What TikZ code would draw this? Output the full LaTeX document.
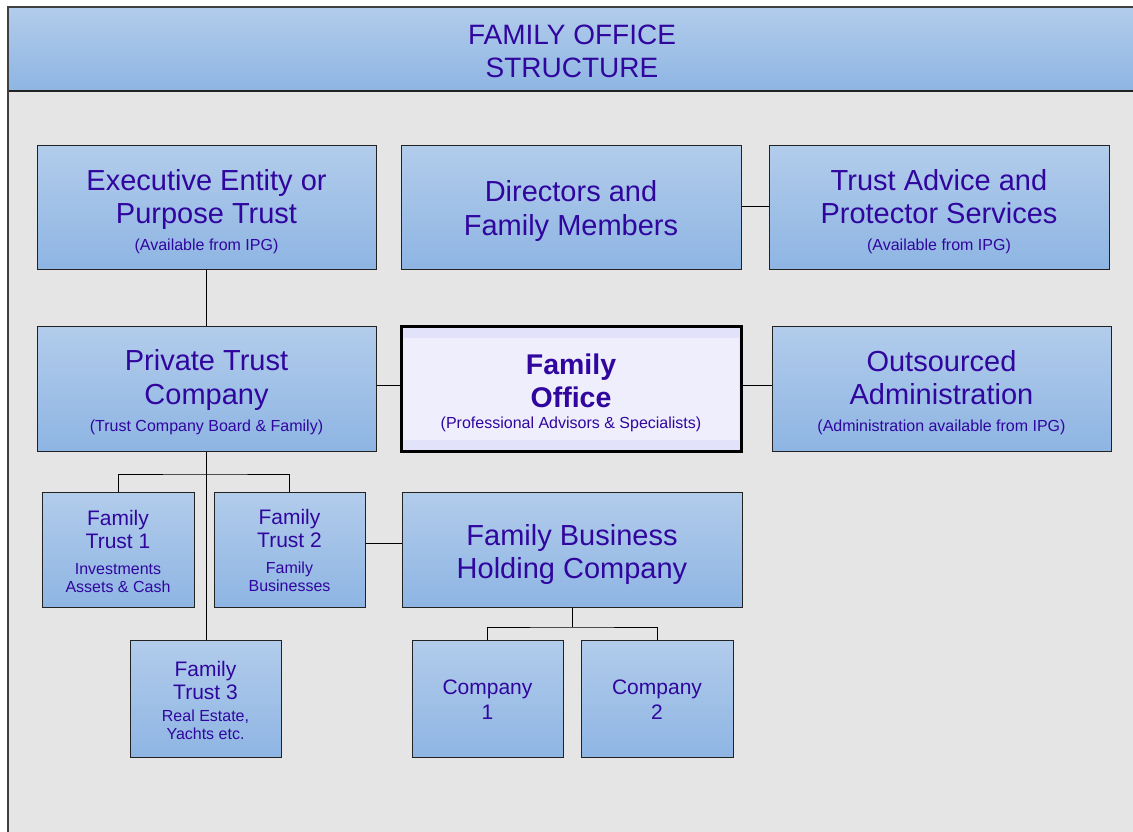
\documentclass[tikz,border=0pt]{standalone}
\usepackage{fontspec}
\setmainfont{Liberation Sans}
\usetikzlibrary{calc}
\definecolor{ink}{RGB}{48,6,158}
\definecolor{boxtop}{RGB}{178,204,235}
\definecolor{boxbot}{RGB}{142,181,227}
\definecolor{boxline}{RGB}{34,34,34}
\definecolor{bg}{RGB}{229,229,229}
\definecolor{foout}{RGB}{226,226,250}
\definecolor{foin}{RGB}{238,238,253}
\tikzset{
  box/.style={draw=boxline, line width=1pt, top color=boxtop, bottom color=boxbot, inner sep=0pt, rectangle},
  wh/.style 2 args={minimum width=#1pt, minimum height=#2pt},
  conn/.style={draw=black, line width=0.9pt},
  tbig/.style={font=\fontsize{29}{34}\selectfont, text=ink, anchor=base, inner sep=0pt},
  tbold/.style={font=\fontsize{28.5}{34}\selectfont\bfseries, text=ink, anchor=base, inner sep=0pt},
  tmid/.style={font=\fontsize{21}{25}\selectfont, text=ink, anchor=base, inner sep=0pt},
  tsmall/.style={font=\fontsize{16}{19}\selectfont, text=ink, anchor=base, inner sep=0pt},
  ttitle/.style={font=\fontsize{28}{33}\selectfont, text=ink, anchor=base, inner sep=0pt}
}
\begin{document}
\begin{tikzpicture}[x=1pt,y=-1pt]
\useasboundingbox (0,0) rectangle (1133,832);
\fill[white] (0,0) rectangle (1133,832);
% frame
\fill[bg] (8,91) rectangle (1140,840);
\shade[top color=boxtop, bottom color=boxbot] (8,7) rectangle (1140,91);
\draw[draw=boxline, line width=1.2pt] (1140,91) -- (8,91);
\draw[draw=black!75, line width=1.5pt] (8,840) -- (8,7) -- (1140,7);
\node[ttitle] (title1) at (572,45) {FAMILY OFFICE};
\node[ttitle] (title2) at (572,78) {STRUCTURE};

% boxes
\node[box, wh={339}{123}] (exe) at (206.5,207.5) {};
\node[box, wh={340}{123}] (dir) at (571,207.5) {};
\node[box, wh={340}{123}] (tas) at (939,207.5) {};
\node[box, wh={339}{125}] (ptc) at (206.5,388.5) {};
\node[draw=black, line width=3pt, fill=foout, rectangle, inner sep=0pt, wh={340}{125}] (fo) at (571,388.5) {};
\fill[foin] (403,338) rectangle (739,440);
\node[box, wh={339}{125}] (out) at (941.5,388.5) {};
\node[box, wh={152}{115}] (ft1) at (118,549.5) {};
\node[box, wh={151}{115}] (ft2) at (289.5,549.5) {};
\node[box, wh={340}{115}] (fbhc) at (572,549.5) {};
\node[box, wh={151}{117}] (ft3) at (205.5,698.5) {};
\node[box, wh={151}{117}] (c1) at (487.5,698.5) {};
\node[box, wh={152}{117}] (c2) at (657,698.5) {};

% connectors
\draw[conn] (exe.south) -- (ptc.north);
\draw[conn] (dir.east |- 0,206) -- (tas.west |- 0,206);
\draw[conn] (ptc.east |- 0,385) -- (fo.west |- 0,385);
\draw[conn] (fo.east |- 0,385) -- (out.west |- 0,385);
\draw[conn] (ptc.south) -- (ptc.south |- ft3.north);
\coordinate (bus1) at (206.5,474);
\draw[conn] (ft1.north) |- (bus1) -| (ft2.north);
\draw[conn] (ft2.east |- 0,543) -- (fbhc.west |- 0,543);
\coordinate (bus2) at (572,627);
\draw[conn] (fbhc.south) -- (bus2);
\draw[conn] (c1.north) |- (bus2) -| (c2.north);

% texts
\node[tbig] (exeA) at (206.5,190) {Executive Entity or};
\node[tbig] (exeB) at (206.5,223) {Purpose Trust};
\node[tsmall] (exeC) at (206.5,250) {(Available from IPG)};

\node[tbig] (dirA) at (571,201) {Directors and};
\node[tbig] (dirB) at (571,235) {Family Members};

\node[tbig] (tasA) at (939,190) {Trust Advice and};
\node[tbig] (tasB) at (939,223) {Protector Services};
\node[tsmall] (tasC) at (939,250) {(Available from IPG)};

\node[tbig] (ptcA) at (206.5,370) {Private Trust};
\node[tbig] (ptcB) at (206.5,404) {Company};
\node[tsmall] (ptcC) at (206.5,431) {(Trust Company Board \& Family)};

\node[tbold] (foA) at (571,374) {Family};
\node[tbold] (foB) at (571,407) {Office};
\node[tsmall] (foC) at (571,428) {(Professional Advisors \& Specialists)};

\node[tbig] (outA) at (941.5,371) {Outsourced};
\node[tbig] (outB) at (941.5,404) {Administration};
\node[tsmall] (outC) at (941.5,431) {(Administration available from IPG)};

\node[tmid] (ft1A) at (118,525) {Family};
\node[tmid] (ft1B) at (118,548.5) {Trust 1};
\node[tsmall] (ft1C) at (118,574) {Investments};
\node[tsmall] (ft1D) at (118,592) {Assets \& Cash};

\node[tmid] (ft2A) at (289.5,524) {Family};
\node[tmid] (ft2B) at (289.5,547.5) {Trust 2};
\node[tsmall] (ft2C) at (289.5,573) {Family};
\node[tsmall] (ft2D) at (289.5,591) {Businesses};

\node[tbig] (fbhcA) at (572,545) {Family Business};
\node[tbig] (fbhcB) at (572,578) {Holding Company};

\node[tmid] (ft3A) at (205.5,676.5) {Family};
\node[tmid] (ft3B) at (205.5,699.5) {Trust 3};
\node[tsmall] (ft3C) at (205.5,721) {Real Estate,};
\node[tsmall] (ft3D) at (205.5,739) {Yachts etc.};

\node[tmid] (c1A) at (487.5,694.5) {Company};
\node[tmid] (c1B) at (487.5,719.5) {1};
\node[tmid] (c2A) at (657,694.5) {Company};
\node[tmid] (c2B) at (657,719.5) {2};
\end{tikzpicture}
\end{document}
